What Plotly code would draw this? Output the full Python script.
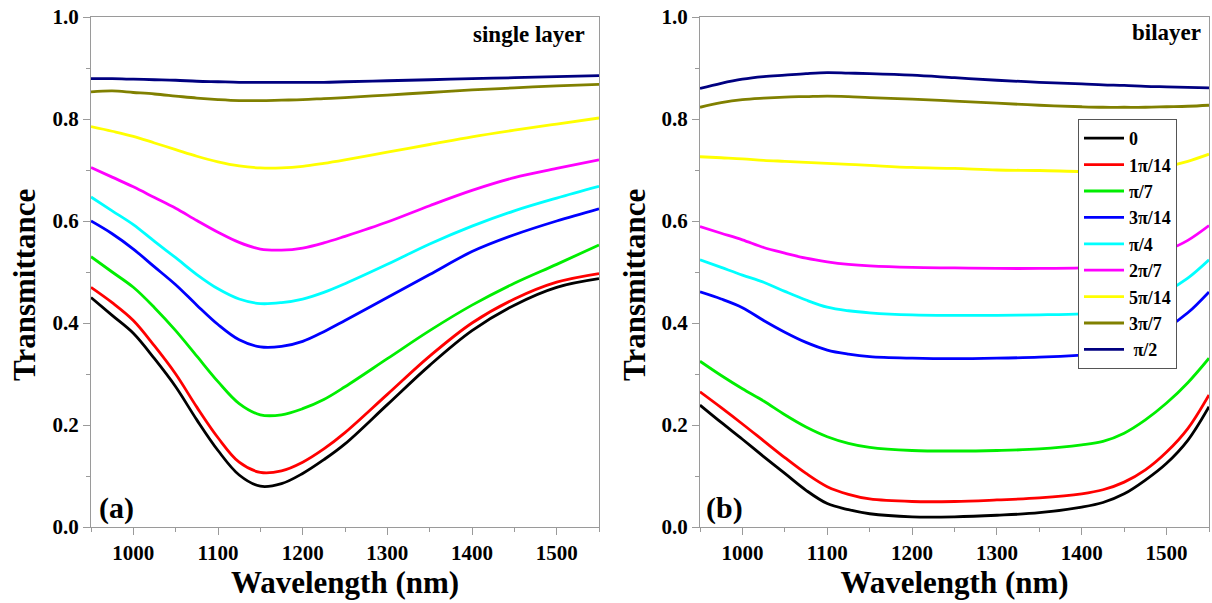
import plotly.graph_objects as go

# ---------------- data ----------------
labels = ["0", "1\u03c0/14", "\u03c0/7", "3\u03c0/14", "\u03c0/4", "2\u03c0/7", "5\u03c0/14", "3\u03c0/7", "\u00a0\u03c0/2"]
colors = ["#000000", "#ff0000", "#00ee00", "#0000ff", "#00ffff", "#ff00ff", "#ffff00", "#808000", "#000080"]

# (a) single layer
wl_a = [950, 975, 1000, 1025, 1050, 1075, 1100, 1125, 1150, 1175, 1200, 1225, 1250, 1300, 1350, 1400, 1450, 1500, 1550]
single_0     = [0.450, 0.415, 0.380, 0.330, 0.275, 0.210, 0.150, 0.102, 0.080, 0.085, 0.105, 0.132, 0.163, 0.240, 0.317, 0.385, 0.435, 0.470, 0.487]
single_pi14  = [0.470, 0.440, 0.405, 0.355, 0.300, 0.235, 0.175, 0.127, 0.107, 0.110, 0.127, 0.153, 0.185, 0.260, 0.335, 0.400, 0.447, 0.480, 0.497]
single_pi7   = [0.530, 0.500, 0.470, 0.430, 0.385, 0.335, 0.285, 0.242, 0.220, 0.220, 0.232, 0.250, 0.275, 0.330, 0.385, 0.435, 0.478, 0.515, 0.553]
single_3pi14 = [0.600, 0.575, 0.545, 0.510, 0.475, 0.435, 0.397, 0.367, 0.353, 0.354, 0.364, 0.383, 0.405, 0.450, 0.495, 0.540, 0.573, 0.600, 0.624]
single_pi4   = [0.647, 0.620, 0.593, 0.560, 0.528, 0.495, 0.467, 0.447, 0.438, 0.440, 0.447, 0.460, 0.477, 0.515, 0.555, 0.590, 0.620, 0.645, 0.668]
single_2pi7  = [0.705, 0.686, 0.667, 0.646, 0.625, 0.601, 0.578, 0.558, 0.545, 0.543, 0.547, 0.557, 0.570, 0.598, 0.630, 0.660, 0.685, 0.703, 0.720]
single_5pi14 = [0.785, 0.776, 0.766, 0.753, 0.740, 0.727, 0.716, 0.708, 0.704, 0.704, 0.707, 0.713, 0.720, 0.735, 0.750, 0.765, 0.778, 0.790, 0.802]
single_3pi7  = [0.853, 0.855, 0.852, 0.849, 0.845, 0.841, 0.838, 0.836, 0.836, 0.837, 0.838, 0.840, 0.842, 0.847, 0.852, 0.857, 0.861, 0.865, 0.868]
single_pi2   = [0.879, 0.879, 0.878, 0.877, 0.876, 0.874, 0.873, 0.872, 0.872, 0.872, 0.872, 0.872, 0.873, 0.875, 0.877, 0.879, 0.881, 0.883, 0.885]

# (b) bilayer
wl_b = [950, 975, 1000, 1025, 1050, 1075, 1100, 1125, 1150, 1200, 1250, 1300, 1350, 1400, 1425, 1450, 1475, 1500, 1525, 1550]
bi_0     = [0.239, 0.205, 0.172, 0.138, 0.105, 0.072, 0.046, 0.034, 0.026, 0.020, 0.020, 0.023, 0.028, 0.039, 0.048, 0.065, 0.092, 0.125, 0.170, 0.236]
bi_pi14  = [0.265, 0.234, 0.202, 0.169, 0.136, 0.105, 0.079, 0.064, 0.055, 0.050, 0.050, 0.053, 0.057, 0.065, 0.073, 0.088, 0.112, 0.147, 0.193, 0.259]
bi_pi7   = [0.325, 0.297, 0.271, 0.247, 0.220, 0.196, 0.177, 0.164, 0.156, 0.150, 0.149, 0.150, 0.153, 0.161, 0.168, 0.184, 0.210, 0.243, 0.283, 0.331]
bi_3pi14 = [0.461, 0.447, 0.430, 0.405, 0.382, 0.362, 0.347, 0.339, 0.334, 0.331, 0.330, 0.331, 0.333, 0.337, 0.340, 0.350, 0.368, 0.390, 0.420, 0.461]
bi_pi4   = [0.524, 0.509, 0.494, 0.480, 0.462, 0.445, 0.431, 0.424, 0.420, 0.416, 0.415, 0.415, 0.416, 0.418, 0.421, 0.428, 0.443, 0.462, 0.488, 0.524]
bi_2pi7  = [0.589, 0.576, 0.563, 0.548, 0.537, 0.527, 0.520, 0.515, 0.512, 0.509, 0.508, 0.507, 0.507, 0.508, 0.510, 0.516, 0.527, 0.542, 0.562, 0.591]
bi_5pi14 = [0.726, 0.724, 0.722, 0.719, 0.717, 0.715, 0.713, 0.711, 0.709, 0.705, 0.703, 0.700, 0.699, 0.697, 0.697, 0.698, 0.701, 0.707, 0.717, 0.731]
bi_3pi7  = [0.823, 0.832, 0.838, 0.841, 0.843, 0.844, 0.845, 0.844, 0.842, 0.839, 0.835, 0.831, 0.827, 0.824, 0.823, 0.823, 0.823, 0.824, 0.825, 0.827]
bi_pi2   = [0.860, 0.870, 0.878, 0.883, 0.886, 0.889, 0.891, 0.890, 0.889, 0.886, 0.881, 0.876, 0.872, 0.869, 0.867, 0.866, 0.864, 0.863, 0.862, 0.861]

x_ticks = [1000, 1100, 1200, 1300, 1400, 1500]
y_ticks = [0.0, 0.2, 0.4, 0.6, 0.8, 1.0]

single = [single_0, single_pi14, single_pi7, single_3pi14, single_pi4, single_2pi7, single_5pi14, single_3pi7, single_pi2]
bilayer = [bi_0, bi_pi14, bi_pi7, bi_3pi14, bi_pi4, bi_2pi7, bi_5pi14, bi_3pi7, bi_pi2]

# ---------------- figure ----------------
FONT = "Liberation Serif, Times New Roman, serif"
fig = go.Figure()

for lab, col, ys in zip(labels, colors, single):
    fig.add_trace(go.Scatter(x=wl_a, y=ys, mode="lines", name=lab, showlegend=False,
                             line=dict(color=col, width=2.8, shape="spline", smoothing=1.0),
                             xaxis="x", yaxis="y"))
for lab, col, ys in zip(labels, colors, bilayer):
    fig.add_trace(go.Scatter(x=wl_b, y=ys, mode="lines", name=lab, showlegend=True,
                             line=dict(color=col, width=2.8, shape="spline", smoothing=1.0),
                             xaxis="x2", yaxis="y2"))

W, H = 1212, 603
dom_y = [1 - 527 / H, 1 - 17 / H]

axis_common = dict(
    showline=True, linecolor="#9a9a9a", linewidth=1.2, mirror=True,
    ticks="outside", tickcolor="#9a9a9a", ticklen=7, tickwidth=1.2,
    showgrid=False, zeroline=False,
    tickfont=dict(family=FONT, size=21, color="black", weight="bold"),
    automargin=False,
)

xa = dict(axis_common, range=[950, 1550], tickvals=x_ticks,
          minor=dict(ticks="outside", ticklen=4, tickcolor="#9a9a9a", dtick=50, tick0=950),
          title=dict(text="Wavelength (nm)", font=dict(family=FONT, size=31, color="black", weight="bold"), standoff=5))
ya = dict(axis_common, range=[0, 1.0], tickvals=y_ticks, ticktext=[f"{v:.1f}" for v in y_ticks],
          minor=dict(ticks="outside", ticklen=4, tickcolor="#9a9a9a", dtick=0.1, tick0=0))

fig.update_layout(
    width=W, height=H,
    margin=dict(l=0, r=0, t=0, b=0),
    paper_bgcolor="white", plot_bgcolor="white",
    xaxis=dict(xa, domain=[91 / W, 599 / W], anchor="y"),
    yaxis=dict(ya, domain=dom_y, anchor="x"),
    xaxis2=dict(xa, domain=[700 / W, 1209 / W], anchor="y2"),
    yaxis2=dict(ya, domain=dom_y, anchor="x2"),
    legend=dict(x=1078 / W, y=1 - 119 / H, xanchor="left", yanchor="top",
                bgcolor="white", bordercolor="#555555", borderwidth=1,
                font=dict(family=FONT, size=18, color="black", weight="bold"),
                itemwidth=40, tracegroupgap=0),
    showlegend=True,
)

ann_font = dict(family=FONT, color="black", weight="bold")
# y-axis titles
fig.add_annotation(text="Transmittance", xref="paper", yref="paper", x=24 / W, y=1 - 285 / H,
                   xanchor="center", yanchor="middle", textangle=-90, showarrow=False,
                   font=dict(ann_font, size=31))
fig.add_annotation(text="Transmittance", xref="paper", yref="paper", x=634 / W, y=1 - 285 / H,
                   xanchor="center", yanchor="middle", textangle=-90, showarrow=False,
                   font=dict(ann_font, size=31))
fig.add_annotation(text="single layer", xref="paper", yref="paper", x=587 / W, y=1 - 35 / H,
                   xanchor="right", yanchor="middle", showarrow=False, font=dict(ann_font, size=23))
fig.add_annotation(text="bilayer", xref="paper", yref="paper", x=1203 / W, y=1 - 33 / H,
                   xanchor="right", yanchor="middle", showarrow=False, font=dict(ann_font, size=23))
fig.add_annotation(text="(a)", xref="paper", yref="paper", x=97 / W, y=1 - 508 / H,
                   xanchor="left", yanchor="middle", showarrow=False, font=dict(ann_font, size=30))
fig.add_annotation(text="(b)", xref="paper", yref="paper", x=704 / W, y=1 - 508 / H,
                   xanchor="left", yanchor="middle", showarrow=False, font=dict(ann_font, size=30))

fig.write_html("out.html")
